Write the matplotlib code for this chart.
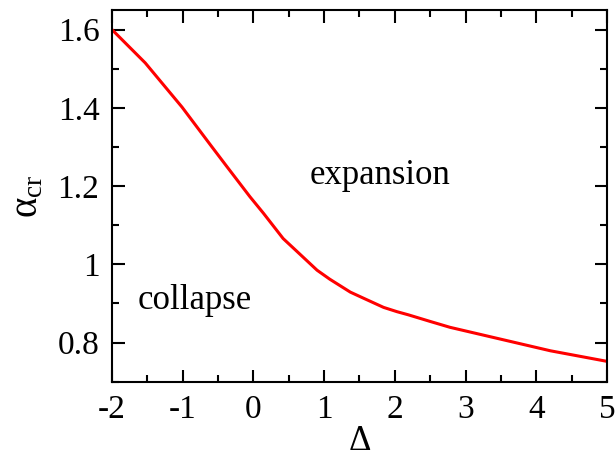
import matplotlib
matplotlib.use("Agg")
import matplotlib.pyplot as plt
from matplotlib.ticker import MultipleLocator

plt.rcParams['font.family'] = 'Liberation Serif'
plt.rcParams['mathtext.fontset'] = 'custom'
plt.rcParams['mathtext.rm'] = 'Liberation Serif'
plt.rcParams['mathtext.it'] = 'Liberation Serif:italic'
plt.rcParams['axes.unicode_minus'] = False

# values
delta = [-2.0, -1.53, -1.01, -0.59, -0.38, -0.05, 0.14, 0.42, 0.61, 0.9,
         1.08, 1.37, 1.55, 1.84, 2.03, 2.19, 2.5, 2.78, 3.49, 4.2, 5.0]
alpha_cr = [1.60, 1.515, 1.402, 1.301, 1.251, 1.173, 1.131, 1.066, 1.034, 0.985,
            0.962, 0.929, 0.914, 0.89, 0.879, 0.871, 0.854, 0.839, 0.809, 0.779, 0.752]

fig = plt.figure(figsize=(6.16, 4.58), dpi=100)
ax = fig.add_axes([0.1818, 0.1666, 0.8036, 0.8114])

ax.plot(delta, alpha_cr, color='red', lw=2.2)

ax.set_xlim(-2, 5)
ax.set_ylim(0.7, 1.65)
ax.xaxis.set_major_locator(MultipleLocator(1))
ax.xaxis.set_minor_locator(MultipleLocator(0.5))
ax.yaxis.set_minor_locator(MultipleLocator(0.1))
ax.set_yticks([0.8, 1.0, 1.2, 1.4, 1.6])
ax.set_yticklabels(['0.8', '1', '1.2', '1.4', '1.6'])

ax.tick_params(which='both', direction='in', top=True, right=True, width=1.5, labelsize=24)
ax.tick_params(which='major', length=9, pad=9)
ax.tick_params(which='minor', length=5)
for s in ax.spines.values():
    s.set_linewidth(1.5)

ax.text(1.79, 1.228, 'expansion', fontsize=25, ha='center', va='center')
ax.text(-0.83, 0.908, 'collapse', fontsize=25, ha='center', va='center')

ax.set_xlabel('Δ', fontsize=25, labelpad=0)
ax.set_ylabel(r'$\mathrm{α}_{\mathrm{cr}}$', fontsize=28, labelpad=8)

fig.savefig('out.png', dpi=100)
